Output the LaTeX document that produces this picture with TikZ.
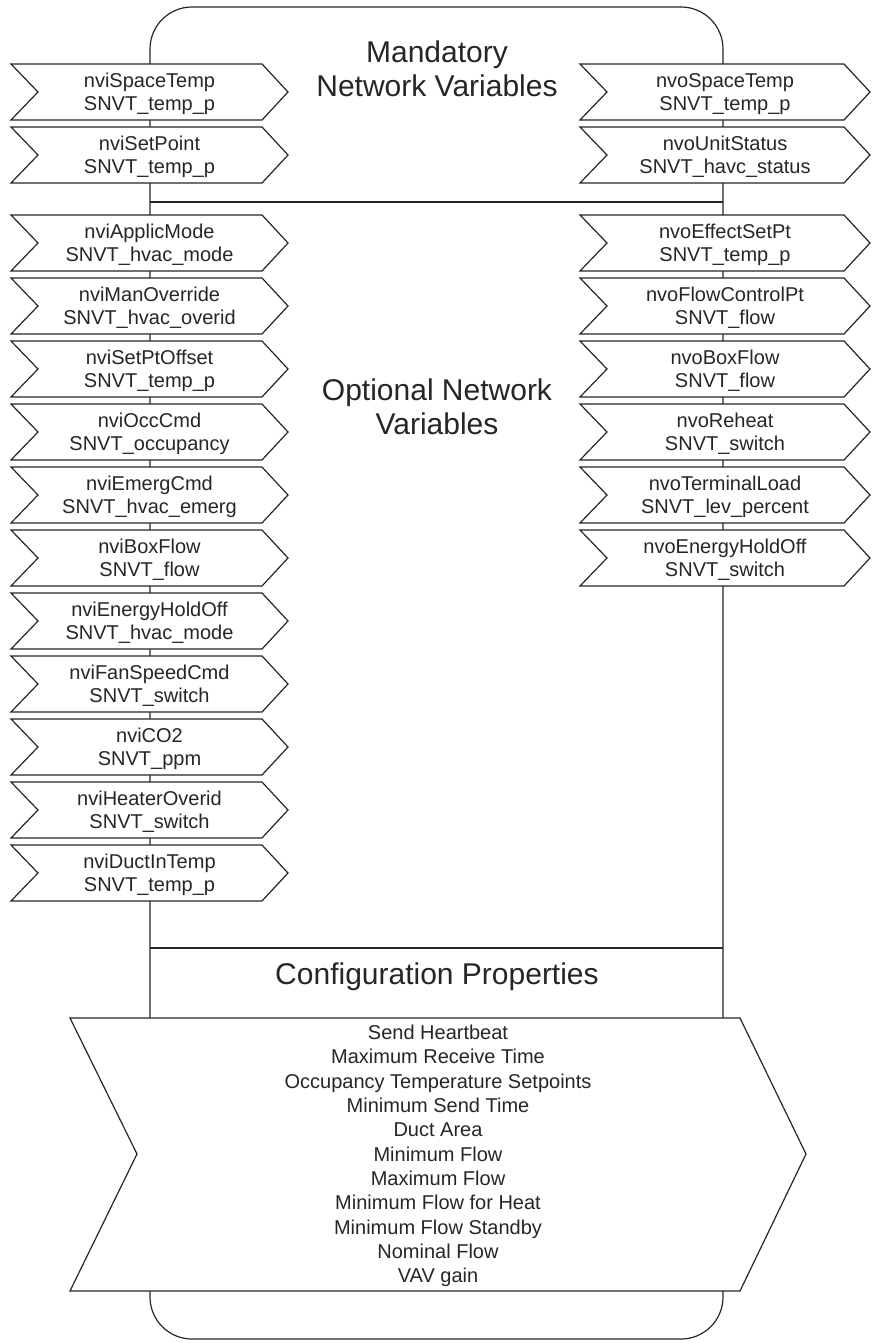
\documentclass[tikz,border=0pt]{standalone}
\usepackage{fontspec}
\setmainfont{Liberation Sans}
\tikzset{
  ln/.style={line width=1.2pt, draw=black!85, line join=miter},
  chevtext/.style={align=center, font=\fontsize{20}{23}\selectfont, inner sep=0pt, text=black!85},
  titletext/.style={align=center, font=\fontsize{30}{34}\selectfont, inner sep=0pt, text=black!85},
  cfgtext/.style={align=center, font=\fontsize{20}{24.3}\selectfont, inner sep=0pt, text=black!85},
}
% #1 name, #2 left x, #3 top y, #4 width, #5 text
\newcommand\chevbox[5]{%
  \draw[ln, fill=white] (#2,#3) -- ++(#4-26,0) -- ++(26,28) -- ++(-26,28) -- ++(-#4+26,0) -- ++(27,-28) -- cycle;
  \node[chevtext] (#1) at ({#2+#4/2},{#3+30}) {#5};}
\begin{document}
\begin{tikzpicture}[x=1pt,y=-1pt]
\fill[white] (0,0) rectangle (876,1343);
\useasboundingbox (0,0) rectangle (876,1343);
% outline
\draw[ln, rounded corners=42pt] (150,7) rectangle (723,1339);
\coordinate (sepAL) at (150,202); \coordinate (sepAR) at (723,202);
\coordinate (sepBL) at (150,948); \coordinate (sepBR) at (723,948);
\draw[ln] (sepAL) -- (sepAR);
\draw[ln] (sepBL) -- (sepBR);
% titles
\node[titletext] (mand) at (437,69) {Mandatory\\Network Variables};
\node[titletext] (opt) at (437,407) {Optional Network\\Variables};
\node[titletext] (conf) at (437,977) {Configuration Properties};
% left chevrons
\chevbox{li1}{11}{64}{277}{nviSpaceTemp\\SNVT\_temp\_p}
\chevbox{li2}{11}{127}{277}{nviSetPoint\\SNVT\_temp\_p}
\chevbox{li3}{11}{215}{277}{nviApplicMode\\SNVT\_hvac\_mode}
\chevbox{li4}{11}{278}{277}{nviManOverride\\SNVT\_hvac\_overid}
\chevbox{li5}{11}{341}{277}{nviSetPtOffset\\SNVT\_temp\_p}
\chevbox{li6}{11}{404}{277}{nviOccCmd\\SNVT\_occupancy}
\chevbox{li7}{11}{467}{277}{nviEmergCmd\\SNVT\_hvac\_emerg}
\chevbox{li8}{11}{530}{277}{nviBoxFlow\\SNVT\_flow}
\chevbox{li9}{11}{593}{277}{nviEnergyHoldOff\\SNVT\_hvac\_mode}
\chevbox{li10}{11}{656}{277}{nviFanSpeedCmd\\SNVT\_switch}
\chevbox{li11}{11}{719}{277}{nviCO2\\SNVT\_ppm}
\chevbox{li12}{11}{782}{277}{nviHeaterOverid\\SNVT\_switch}
\chevbox{li13}{11}{845}{277}{nviDuctInTemp\\SNVT\_temp\_p}
% right chevrons
\chevbox{ro1}{580}{64}{290}{nvoSpaceTemp\\SNVT\_temp\_p}
\chevbox{ro2}{580}{127}{290}{nvoUnitStatus\\SNVT\_havc\_status}
\chevbox{ro3}{580}{215}{290}{nvoEffectSetPt\\SNVT\_temp\_p}
\chevbox{ro4}{580}{278}{290}{nvoFlowControlPt\\SNVT\_flow}
\chevbox{ro5}{580}{341}{290}{nvoBoxFlow\\SNVT\_flow}
\chevbox{ro6}{580}{404}{290}{nvoReheat\\SNVT\_switch}
\chevbox{ro7}{580}{467}{290}{nvoTerminalLoad\\SNVT\_lev\_percent}
\chevbox{ro8}{580}{530}{290}{nvoEnergyHoldOff\\SNVT\_switch}
% configuration chevron
\draw[ln, fill=white] (70,1018) -- (740,1018) -- (806,1154) -- (740,1291) -- (70,1291) -- (137,1154) -- cycle;
\node[cfgtext] (cfg) at (438,1156) {Send Heartbeat\\Maximum Receive Time\\Occupancy Temperature Setpoints\\Minimum Send Time\\Duct Area\\Minimum Flow\\Maximum Flow\\Minimum Flow for Heat\\Minimum Flow Standby\\Nominal Flow\\VAV gain};
\end{tikzpicture}
\end{document}
